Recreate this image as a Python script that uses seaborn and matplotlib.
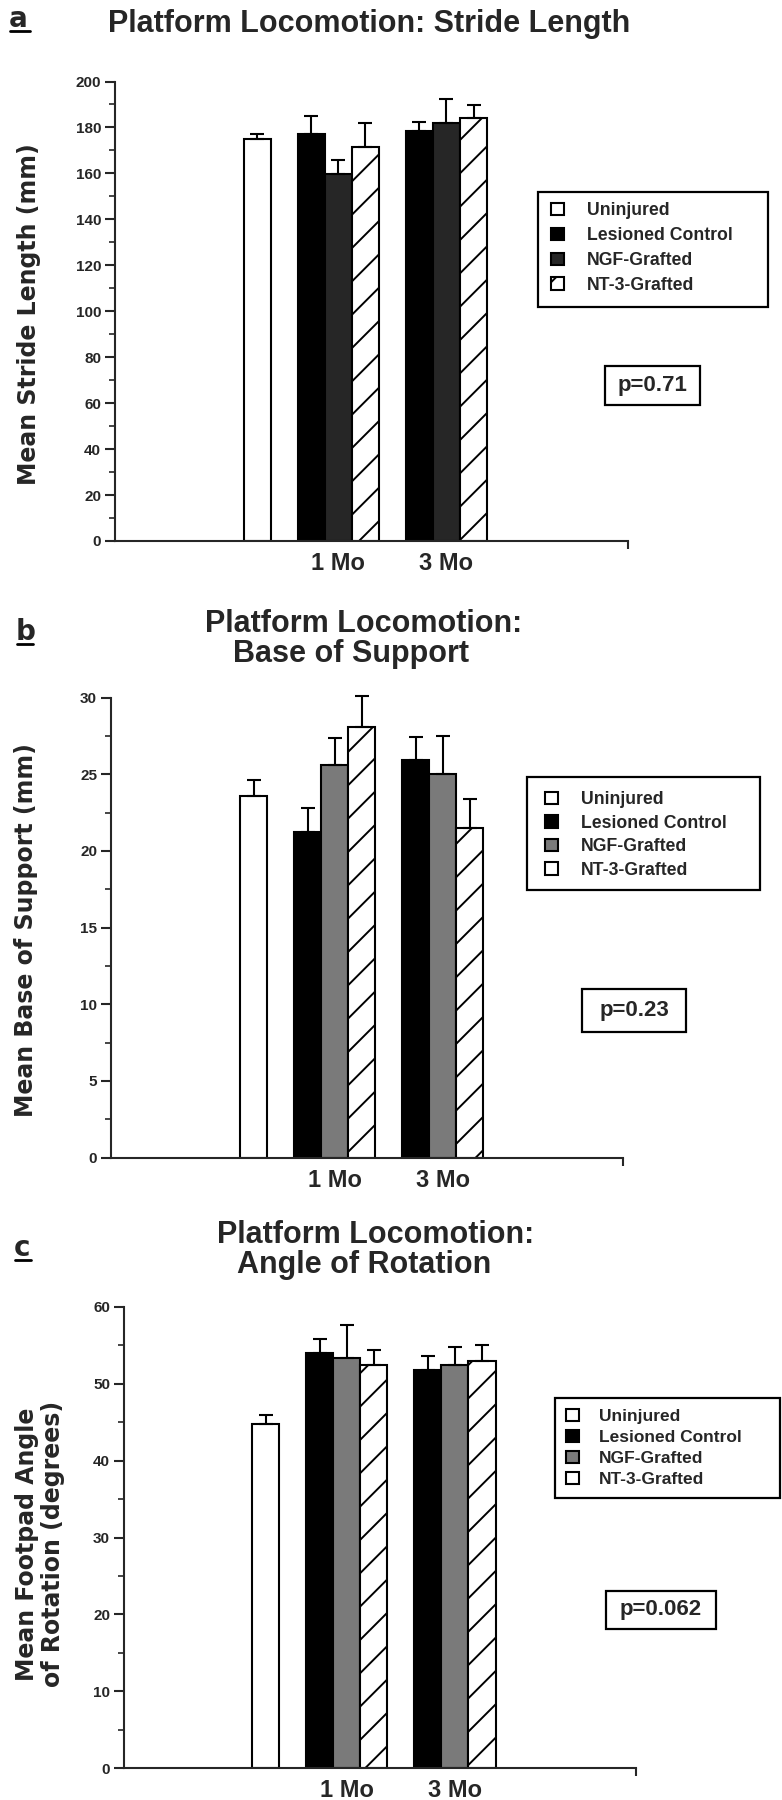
import matplotlib
matplotlib.use("Agg")
import matplotlib.pyplot as plt
import seaborn as sns
import numpy as np
import pandas as pd
from matplotlib.patches import Rectangle
from matplotlib.lines import Line2D
from matplotlib.ticker import MultipleLocator, FixedLocator

# ---------------- data ----------------
groups = ["Uninjured", "Lesioned Control", "NGF-Grafted", "NT-3-Grafted"]
timepoints = ["1 Mo", "3 Mo"]

# (a) stride length (mm)
stride_uninjured = 174.8
stride_uninjured_err = 2.5
stride_1mo = [177.2, 159.8, 171.4]
stride_1mo_err = [7.7, 5.9, 10.4]
stride_3mo = [178.4, 181.8, 184.0]
stride_3mo_err = [3.9, 10.7, 5.7]

# (b) base of support (mm)
base_uninjured = 23.6
base_uninjured_err = 1.0
base_1mo = [21.2, 25.6, 28.1]
base_1mo_err = [1.6, 1.75, 2.0]
base_3mo = [25.9, 25.0, 21.5]
base_3mo_err = [1.55, 2.5, 1.85]

# (c) angle of rotation (degrees)
angle_uninjured = 44.8
angle_uninjured_err = 1.2
angle_1mo = [54.0, 53.4, 52.5]
angle_1mo_err = [1.9, 4.3, 1.9]
angle_3mo = [51.8, 52.4, 53.0]
angle_3mo_err = [1.8, 2.4, 2.0]

p_values = ["p=0.71", "p=0.23", "p=0.062"]

# ---------------- style ----------------
sns.set_style("ticks")
plt.rcParams["font.family"] = ["Liberation Sans", "DejaVu Sans"]
plt.rcParams["font.weight"] = "bold"
plt.rcParams["hatch.linewidth"] = 1.4
plt.rcParams["axes.linewidth"] = 1.5

W, H = 782, 1800
fig = plt.figure(figsize=(W / 100, H / 100), dpi=100)


def fx(px):
    return px / W


def fy(py):
    return 1 - py / H


slot_order = ["Uninjured", "gap1", "1 Mo 0", "1 Mo 1", "1 Mo 2",
              "gap2", "3 Mo 0", "3 Mo 1", "3 Mo 2"]


def build_df(u, ue, m1, e1, m3, e3):
    rows = [("Uninjured", groups[0], u, ue)]
    for i, g in enumerate(groups[1:]):
        rows.append((f"1 Mo {i}", g, m1[i], e1[i]))
    for i, g in enumerate(groups[1:]):
        rows.append((f"3 Mo {i}", g, m3[i], e3[i]))
    return pd.DataFrame(rows, columns=["slot", "group", "value", "err"])


def draw_panel(df, axpx, xlim, ymax, ystep, yminor, ngf_color,
               legend_px, leg_rows, leg_fs, leg_spacing, leg_pad, pbox, ptext):
    left, right, y0, ytop = axpx
    ax = fig.add_axes([fx(left), fy(y0), (right - left) / W, (y0 - ytop) / H])
    pal = {groups[0]: "white", groups[1]: "black",
           groups[2]: ngf_color, groups[3]: "white"}
    sns.barplot(data=df, x="slot", y="value", hue="group", order=slot_order,
                hue_order=groups, palette=pal, dodge=False, width=1.0,
                errorbar=None, saturation=1, edgecolor="black", linewidth=1.5,
                legend=False, ax=ax)
    for cont, g in zip(ax.containers, groups):
        for p in cont.patches:
            p.set_edgecolor("black")
            p.set_linewidth(1.5)
            if g == "NT-3-Grafted":
                p.set_hatch("/")
    xs = [slot_order.index(s) for s in df["slot"]]
    eb = ax.errorbar(xs, df["value"], yerr=[np.zeros(len(df)), df["err"]],
                     fmt="none", ecolor="black", elinewidth=1.5, capsize=4.7,
                     capthick=1.5, zorder=3)
    for art in eb.lines[1] + eb.lines[2]:
        art.set_clip_on(False)
    ax.set_xlim(*xlim)
    ax.set_ylim(0, ymax)
    ax.set_xticks([slot_order.index("1 Mo 1"), slot_order.index("3 Mo 1")])
    ax.set_xticklabels(timepoints, fontsize=17, fontweight="bold")
    ax.tick_params(axis="x", which="major", length=0, pad=8)
    ax.xaxis.set_minor_locator(FixedLocator([xlim[1]]))
    ax.tick_params(axis="x", which="minor", length=6, width=1.5)
    ax.yaxis.set_major_locator(MultipleLocator(ystep))
    ax.yaxis.set_minor_locator(MultipleLocator(yminor))
    ax.tick_params(axis="y", which="major", length=7, width=1.5,
                   labelsize=11, pad=3)
    ax.tick_params(axis="y", which="minor", length=4, width=1.2)
    for lab in ax.get_yticklabels():
        lab.set_fontweight("bold")
    ax.set_xlabel("")
    ax.set_ylabel("")
    sns.despine(ax=ax)
    ax.patch.set_alpha(0)

    # legend
    x0, x1, yy0, yy1, sw_x = legend_px
    handles = []
    for cont in ax.containers[:4]:
        handles.append(cont.patches[0])
    ax.legend(handles, groups, loc="center left",
              bbox_to_anchor=(fx(sw_x), fy(leg_rows)),
              bbox_transform=fig.transFigure, frameon=False,
              prop={"weight": "bold", "size": leg_fs},
              handlelength=0.72, handleheight=0.72, handletextpad=leg_pad,
              labelspacing=leg_spacing, borderpad=0, borderaxespad=0)
    fig.add_artist(Rectangle((fx(x0), fy(yy1)), (x1 - x0) / W, (yy1 - yy0) / H,
                             transform=fig.transFigure, fill=False,
                             ec="black", lw=1.6))
    # p box
    bx0, bx1, by0, by1 = pbox
    fig.add_artist(Rectangle((fx(bx0), fy(by1)), (bx1 - bx0) / W, (by1 - by0) / H,
                             transform=fig.transFigure, fill=False,
                             ec="black", lw=1.6))
    fig.text(fx((bx0 + bx1) / 2), fy((by0 + by1) / 2), ptext, ha="center",
             va="center", fontsize=16, fontweight="bold")
    return ax


def panel_letter(letter, x, y_base, ux0, ux1, uy):
    fig.text(fx(x), fy(y_base), letter, ha="left", va="baseline",
             fontsize=20, fontweight="bold", family="DejaVu Sans")
    fig.add_artist(Line2D([fx(ux0), fx(ux1)], [fy(uy), fy(uy)],
                          transform=fig.transFigure, color="black", lw=2))


ylab_font = dict(family="DejaVu Sans", fontweight="bold", fontsize=17)

# ---------------- panel a ----------------
df_a = build_df(stride_uninjured, stride_uninjured_err, stride_1mo,
                stride_1mo_err, stride_3mo, stride_3mo_err)
draw_panel(df_a, (115, 628, 541, 81.5), (-5.25, 13.71), 200, 20, 10,
           "#262626", (538, 768, 192, 307, 551), 248, 12.7, 0.45, 1.3,
           (605, 700, 366, 405), p_values[0])
panel_letter("a", 9, 27, 10, 30, 31)
fig.text(fx(369), fy(32), "Platform Locomotion: Stride Length", ha="center",
         va="baseline", fontsize=22, fontweight="bold")
fig.text(fx(29), fy(314), "Mean Stride Length (mm)", rotation=90,
         ha="center", va="center", **ylab_font)

# ---------------- panel b ----------------
df_b = build_df(base_uninjured, base_uninjured_err, base_1mo, base_1mo_err,
                base_3mo, base_3mo_err)
draw_panel(df_b, (111, 623, 1157.6, 697.5), (-5.29, 13.68), 30, 5, 2.5,
           "#7a7a7a", (527, 760, 777, 890, 545), 835, 12.7, 0.37, 1.3,
           (582, 686, 989, 1032), p_values[1])
panel_letter("b", 16, 640, 17, 33, 644)
fig.text(fx(364), fy(632), "Platform Locomotion:", ha="center",
         va="baseline", fontsize=22, fontweight="bold")
fig.text(fx(351), fy(662), "Base of Support", ha="center",
         va="baseline", fontsize=22, fontweight="bold")
fig.text(fx(26), fy(930), "Mean Base of Support (mm)", rotation=90,
         ha="center", va="center", **ylab_font)

# ---------------- panel c ----------------
df_c = build_df(angle_uninjured, angle_uninjured_err, angle_1mo, angle_1mo_err,
                angle_3mo, angle_3mo_err)
draw_panel(df_c, (124, 636, 1768, 1307), (-5.23, 13.69), 60, 10, 5,
           "#7a7a7a", (555, 780, 1398, 1498, 566), 1448, 12.5, 0.33, 1.2,
           (606, 716, 1591, 1629), p_values[2])
panel_letter("c", 14, 1256, 15, 31, 1260)
fig.text(fx(376), fy(1243), "Platform Locomotion:", ha="center",
         va="baseline", fontsize=22, fontweight="bold")
fig.text(fx(364), fy(1273), "Angle of Rotation", ha="center",
         va="baseline", fontsize=22, fontweight="bold")
fig.text(fx(40), fy(1544), "Mean Footpad Angle\nof Rotation (degrees)",
         rotation=90, ha="center", va="center", multialignment="center",
         linespacing=1.1, **ylab_font)

fig.savefig("out.png", dpi=100)
